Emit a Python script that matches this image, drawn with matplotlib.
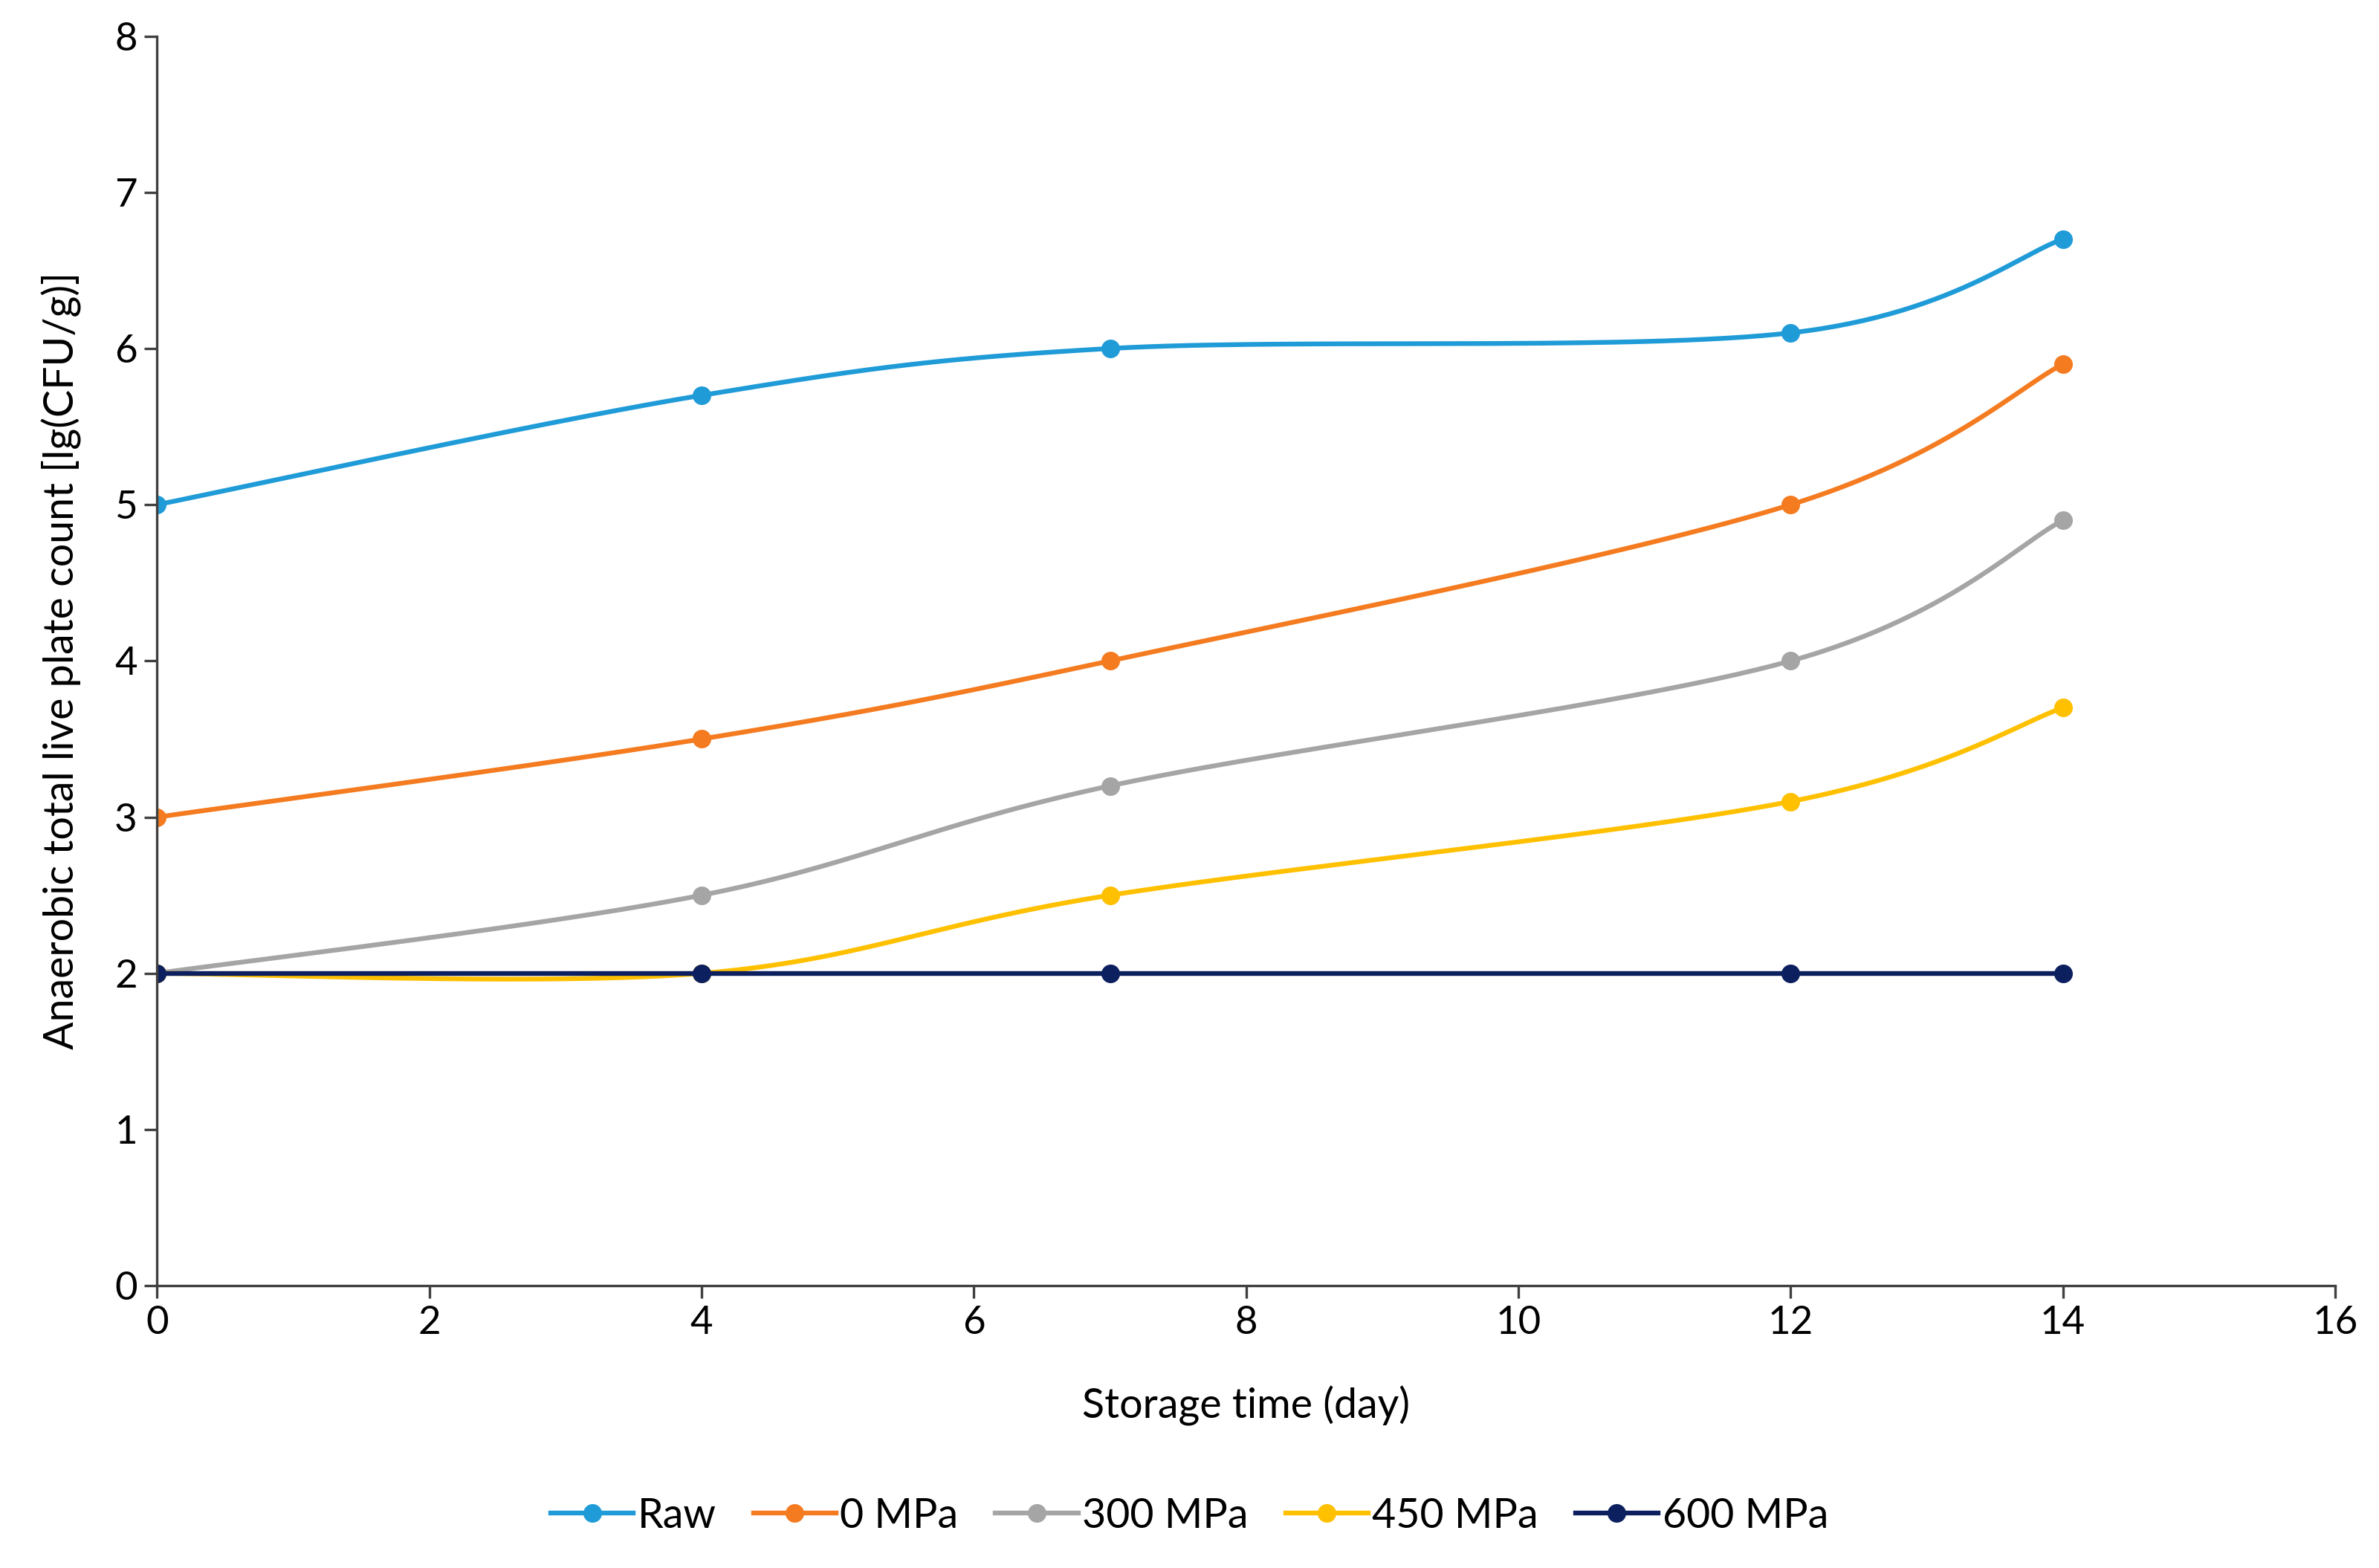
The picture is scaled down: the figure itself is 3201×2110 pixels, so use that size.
import numpy as np
import matplotlib.pyplot as plt

days = [0, 4, 7, 12, 14]
raw = [5.0, 5.7, 6.0, 6.1, 6.7]
mpa0 = [3.0, 3.5, 4.0, 5.0, 5.9]
mpa300 = [2.0, 2.5, 3.2, 4.0, 4.9]
mpa450 = [2.0, 2.0, 2.5, 3.1, 3.7]
mpa600 = [2.0, 2.0, 2.0, 2.0, 2.0]
labels = ['Raw', '0 MPa', '300 MPa', '450 MPa', '600 MPa']
colors = ['#1f9bd7', '#f47b20', '#a5a5a5', '#ffc000', '#0c1f5e']

plt.rcParams['font.family'] = 'Lato'


def smooth(x, y, n=60):
    # excel style smoothed line (catmull-rom as cubic bezier)
    p = np.column_stack([x, y]).astype(float)
    pts = np.vstack([p[0], p, p[-1]])
    out = []
    t = np.linspace(0, 1, n)[:, None]
    for i in range(1, len(pts) - 2):
        p0, p1, p2, p3 = pts[i - 1], pts[i], pts[i + 1], pts[i + 2]
        c1 = p1 + (p2 - p0) / 6
        c2 = p2 - (p3 - p1) / 6
        seg = ((1 - t) ** 3) * p1 + 3 * ((1 - t) ** 2) * t * c1 + 3 * (1 - t) * t ** 2 * c2 + t ** 3 * p2
        out.append(seg)
    s = np.vstack(out)
    return s[:, 0], s[:, 1]


fig = plt.figure(figsize=(16.005, 10.55), dpi=200)
ax = fig.add_axes([0.066, 0.18, 0.9156, 0.797])

for vals, lab, c in zip([raw, mpa0, mpa300, mpa450, mpa600], labels, colors):
    sx, sy = smooth(days, vals)
    ax.plot(sx, sy, color=c, lw=2.3)
    ax.plot(days, vals, 'o', color=c, ms=8)
    ax.plot([], [], '-o', color=c, lw=2.3, ms=8, label=lab)

ax.set_xlim(0, 16)
ax.set_ylim(0, 8)
ax.set_xticks(range(0, 17, 2))
ax.set_yticks(range(0, 9))
for s in ['top', 'right']:
    ax.spines[s].set_visible(False)
for s in ['left', 'bottom']:
    ax.spines[s].set_color('#404040')
    ax.spines[s].set_linewidth(1.2)
ax.tick_params(labelsize=19, colors='black', length=6, width=1.2, color='#404040')
ax.set_xlabel('Storage time (day)', fontsize=20, labelpad=22)
ax.set_ylabel('Anaerobic total live plate count [lg(CFU/g)]', fontsize=20, labelpad=16)

fig.legend(loc='center', bbox_to_anchor=(0.5, 0.033), ncol=5, frameon=False,
           fontsize=20, handlelength=2.0, columnspacing=0.9, handletextpad=0.1)

fig.savefig('out.png')
